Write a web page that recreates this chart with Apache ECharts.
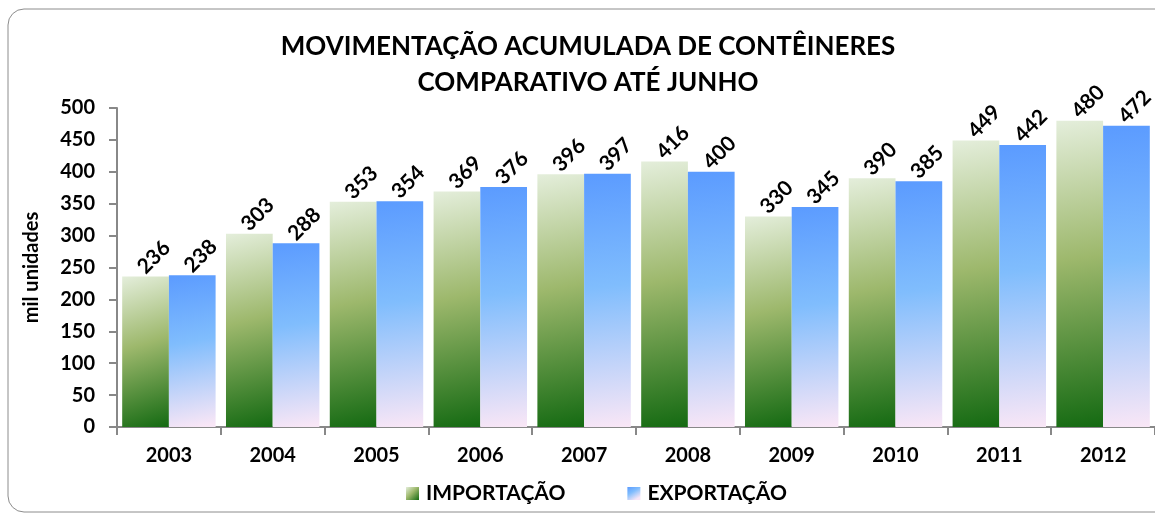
<!DOCTYPE html>
<html lang="pt">
<head>
<meta charset="utf-8">
<script src="https://cdn.jsdelivr.net/npm/echarts@6/dist/echarts.min.js"></script>
</head>
<body style="margin:0">
<div id="container" style="width:1155px;height:513px"></div>
<script>
var years = ['2003', '2004', '2005', '2006', '2007', '2008', '2009', '2010', '2011', '2012'];
var importacao = [236, 303, 353, 369, 396, 416, 330, 390, 449, 480];
var exportacao = [238, 288, 354, 376, 397, 400, 345, 385, 442, 472];

var FONT = 'Lato, "Open Sans", sans-serif';

var greenFill = new echarts.graphic.LinearGradient(0, 0, 1, 1, [
  { offset: 0, color: '#e4eedb' },
  { offset: 0.45, color: '#9db86c' },
  { offset: 1, color: '#146a12' }
]);
var blueFill = new echarts.graphic.LinearGradient(0, 0, 0.6, 1, [
  { offset: 0, color: '#5b9bff' },
  { offset: 0.45, color: '#80bdfd' },
  { offset: 1, color: '#f8e6f6' }
]);

var chart = echarts.init(document.getElementById('container'), null, { renderer: 'canvas' });

// rotated value labels above each bar
var labelStyle = {
  show: true,
  position: 'top',
  rotate: 45,
  align: 'left',
  verticalAlign: 'bottom',
  offset: [-1, 5],
  distance: 3,
  fontFamily: FONT,
  fontWeight: 'bold',
  fontSize: 21,
  color: '#000'
};

var option = {
  animation: false,
  backgroundColor: '#fff',
  graphic: [{
    type: 'rect',
    shape: { x: 8, y: 9, width: 1170, height: 503, r: 16 },
    style: { fill: 'none', stroke: '#8c8c8c', lineWidth: 1 },
    z: -1
  }],
  title: {
    text: 'MOVIMENTAÇÃO ACUMULADA DE CONTÊINERES\nCOMPARATIVO ATÉ JUNHO',
    left: 583,
    textAlign: 'center',
    top: 24,
    textStyle: {
      fontFamily: FONT,
      fontWeight: 'bold',
      fontSize: 26,
      lineHeight: 36,
      color: '#000'
    }
  },
  legend: {
    bottom: 4,
    left: 401,
    itemGap: 62,
    itemWidth: 13,
    itemHeight: 13,
    icon: 'rect',
    textStyle: { fontFamily: FONT, fontWeight: 'bold', fontSize: 21, color: '#000', padding: [0, 0, 0, 2] },
    data: ['IMPORTAÇÃO', 'EXPORTAÇÃO']
  },
  grid: { left: 117, right: -6, top: 108, bottom: 86 },
  xAxis: {
    type: 'category',
    data: years,
    axisLine: { lineStyle: { color: '#888', width: 2 } },
    axisTick: { show: true, length: 8, lineStyle: { color: '#888', width: 2 } },
    axisLabel: { fontFamily: FONT, fontWeight: 'bold', fontSize: 20, color: '#000', margin: 19 }
  },
  yAxis: {
    type: 'value',
    min: 0,
    max: 500,
    interval: 50,
    name: 'mil unidades',
    nameLocation: 'middle',
    nameGap: 75,
    nameRotate: 90,
    nameTextStyle: { fontFamily: FONT, fontWeight: 'bold', fontSize: 20, color: '#000' },
    axisLine: { show: true, lineStyle: { color: '#888', width: 2 } },
    axisTick: { show: true, length: 8, lineStyle: { color: '#888', width: 2 } },
    splitLine: { show: false },
    axisLabel: { fontFamily: FONT, fontWeight: 'bold', fontSize: 20, color: '#000', margin: 22 }
  },
  series: [{
    name: 'IMPORTAÇÃO',
    type: 'bar',
    data: importacao,
    barGap: '0%',
    barCategoryGap: '10%',
    itemStyle: { color: greenFill },
    label: labelStyle
  }, {
    name: 'EXPORTAÇÃO',
    type: 'bar',
    data: exportacao,
    itemStyle: { color: blueFill },
    label: labelStyle
  }]
};

chart.setOption(option);
</script>
</body>
</html>
